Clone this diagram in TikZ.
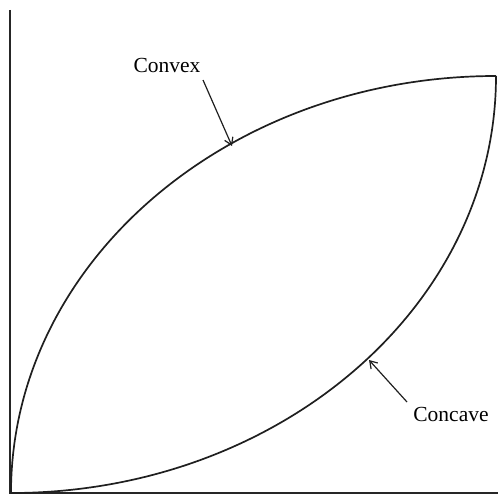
\documentclass[tikz,border=0pt]{standalone}
\usepackage{fontspec}
\setmainfont{Liberation Serif}
\usetikzlibrary{arrows.meta}
\begin{document}
\begin{tikzpicture}[x=1pt,y=1pt,
  axis/.style={line width=1.8pt,black!85},
  curve/.style={line width=1.7pt,black!88},
  pointer/.style={line width=1.2pt,black!88,-{Straight Barb[length=7pt,width=9pt,line width=1.2pt]}},
  lbl/.style={font=\fontsize{21.5}{25}\selectfont,inner sep=2pt}]
\useasboundingbox (0,0) rectangle (498,-495);
\coordinate (ytop) at (10,-10);
\coordinate (orig) at (10,-493);
\coordinate (xend) at (498,-493);
\draw[axis] (ytop) -- (orig) -- (xend);
% convex curve
\draw[curve] (11,-493) arc[start angle=180,end angle=90,x radius=485,y radius=417];
% concave curve
\draw[curve] (11,-493) arc[start angle=270,end angle=360,x radius=485,y radius=417];
\node[lbl] (cvx) at (167,-65) {Convex};
\node[lbl] (ccv) at (451,-414) {Concave};
\coordinate (cvxpt) at (232,-146);
\coordinate (ccvpt) at (369,-360);
\coordinate (cvxs) at (203,-80);
\coordinate (ccvs) at (407,-402);
\draw[pointer] (cvxs) -- (cvxpt);
\draw[pointer] (ccvs) -- (ccvpt);
\end{tikzpicture}
\end{document}
